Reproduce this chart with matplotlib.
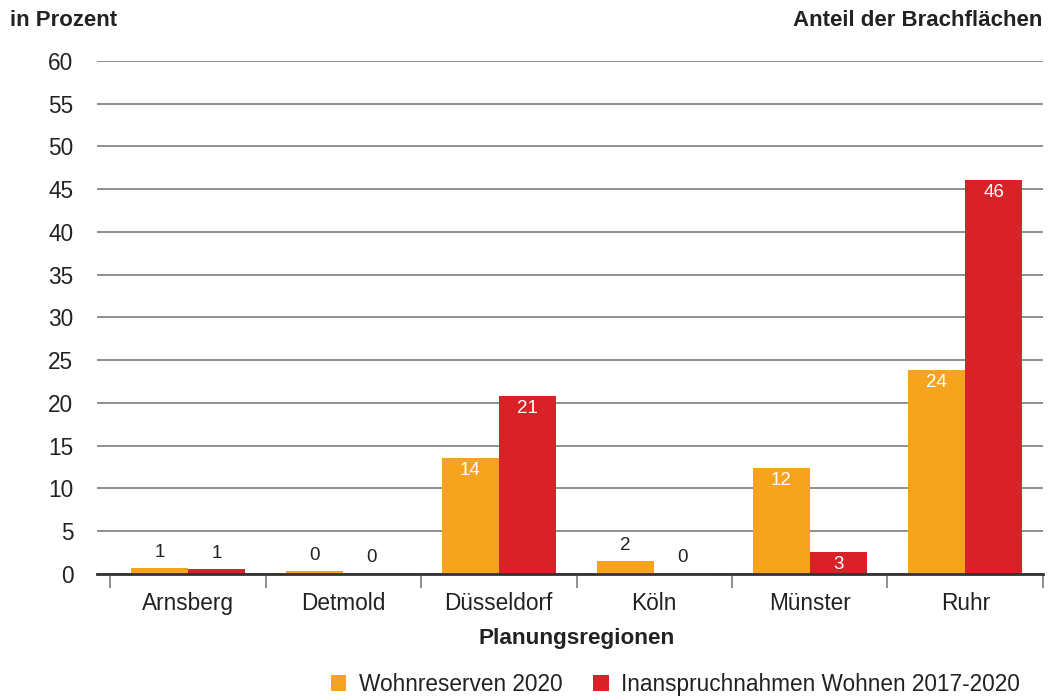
import numpy as np
import matplotlib.pyplot as plt
from matplotlib.patches import Patch

plt.rcParams['font.family'] = ['Liberation Sans', 'DejaVu Sans']

regionen = ["Arnsberg", "Detmold", "Düsseldorf", "Köln", "Münster", "Ruhr"]
wohnreserven = [0.7, 0.35, 13.6, 1.55, 12.4, 23.9]
inanspruchnahmen = [0.55, 0.15, 20.8, 0.15, 2.6, 46.1]
serien = ["Wohnreserven 2020", "Inanspruchnahmen Wohnen 2017-2020"]
farben = ["#F6A31E", "#D92128"]

fig = plt.figure(figsize=(10.48, 6.97), dpi=100)
ax = fig.add_axes([0.0926, 0.1765, 0.9026, 0.736])

x = np.arange(len(regionen))
w = 0.367
for off, vals, col in [(-w / 2, wohnreserven, farben[0]), (w / 2, inanspruchnahmen, farben[1])]:
    bars = ax.bar(x + off, vals, width=w, color=col, zorder=3)
    for b, v in zip(bars, vals):
        cx = b.get_x() + b.get_width() / 2
        if v >= 2:
            ax.annotate(f"{round(v)}", (cx, v), xytext=(0, -9), textcoords="offset points",
                        ha="center", va="center", color="white", fontsize=13.5, zorder=4)
        else:
            ax.annotate(f"{round(v)}", (cx, v), xytext=(0, 11), textcoords="offset points",
                        ha="center", va="center", color="#222222", fontsize=13.5, zorder=4)

ax.set_ylim(0, 60)
ax.set_xlim(-0.584, 5.5)
ax.set_yticks(np.arange(0, 61, 5))
ax.yaxis.grid(True, color="#8f8f94", linewidth=1.4)
ax.set_axisbelow(True)
ax.tick_params(axis="y", length=0, pad=17, labelsize=16.3, labelcolor="#222222")

ax.set_xticks(x)
ax.set_xticklabels(regionen)
ax.set_xticks(np.arange(-0.5, 6, 1), minor=True)
ax.tick_params(axis="x", which="major", length=0, pad=13, labelsize=16.3, labelcolor="#222222")
ax.tick_params(axis="x", which="minor", length=10, width=1.4, color="#8f8f94")

for s in ["top", "right", "left"]:
    ax.spines[s].set_visible(False)
ax.spines["bottom"].set_color("#333333")
ax.spines["bottom"].set_linewidth(2)
ax.spines["bottom"].set_zorder(5)

# axis title centred under the category range
ax.set_xlabel("Planungsregionen", fontsize=16.2, fontweight="bold", color="#222222", labelpad=9)
ax.xaxis.label.set_x((2.5 + 0.584) / 6.084)

fig.text(0.0095, 0.971, "in Prozent", fontsize=16, fontweight="bold", color="#222222",
         ha="left", va="center")
fig.text(0.995, 0.971, "Anteil der Brachflächen", fontsize=16, fontweight="bold",
         color="#222222", ha="right", va="center")

handles = [Patch(facecolor=c, edgecolor="none") for c in farben]
fig.legend(handles, serien, loc="center right", bbox_to_anchor=(0.993, 0.018),
           ncol=2, frameon=False, fontsize=16.3, handlelength=0.7, handleheight=0.7,
           handletextpad=0.55, columnspacing=1.35, labelcolor="#222222")

fig.savefig("out.png", dpi=100)
